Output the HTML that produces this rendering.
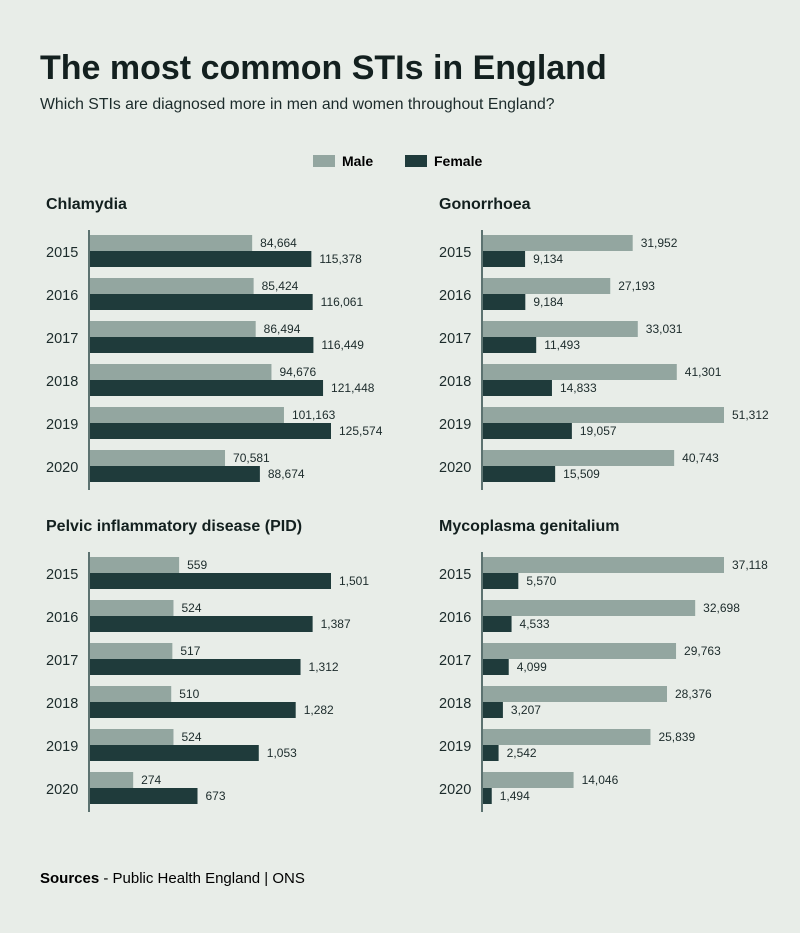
<!DOCTYPE html>
<html><head><meta charset="utf-8"><style>
body{margin:0;background:#e8ede8;width:800px;height:933px;overflow:hidden;font-family:"Liberation Sans",sans-serif;color:#1c2b2b}
svg{position:absolute;left:0;top:0}
</style></head><body>
<svg width="800" height="933">
<text x="40" y="79" font-size="34" font-weight="bold" fill="#13201f">The most common STIs in England</text>
<text x="40" y="109" font-size="15.8" fill="#1c2b2b">Which STIs are diagnosed more in men and women throughout England?</text>
<g>
<rect x="313" y="155" width="22" height="12" fill="#93a6a0"/>
<text x="342" y="166" font-size="14" font-weight="bold">Male</text>
<rect x="405" y="155" width="22" height="12" fill="#1f3b3b"/>
<text x="434" y="166" font-size="14" font-weight="bold">Female</text>
</g>
<g id="panels"></g>
<text x="40" y="883" font-size="15"><tspan font-weight="bold">Sources</tspan> - Public Health England | ONS</text>
</svg>
<script>
const years=["2015","2016","2017","2018","2019","2020"];
const chlamydiaMale=[84664,85424,86494,94676,101163,70581];
const chlamydiaFemale=[115378,116061,116449,121448,125574,88674];
const gonorrhoeaMale=[31952,27193,33031,41301,51312,40743];
const gonorrhoeaFemale=[9134,9184,11493,14833,19057,15509];
const pidMale=[559,524,517,510,524,274];
const pidFemale=[1501,1387,1312,1282,1053,673];
const mycoMale=[37118,32698,29763,28376,25839,14046];
const mycoFemale=[5570,4533,4099,3207,2542,1494];
const panelTitles=["Chlamydia","Gonorrhoea","Pelvic inflammatory disease (PID)","Mycoplasma genitalium"];
const NS="http://www.w3.org/2000/svg";
const root=document.getElementById('panels');
function el(t,a,p){const e=document.createElementNS(NS,t);for(const k in a)e.setAttribute(k,a[k]);(p||root).appendChild(e);return e;}
const panels=[
 {title:panelTitles[0],m:chlamydiaMale,f:chlamydiaFemale,ax:89,top:230},
 {title:panelTitles[1],m:gonorrhoeaMale,f:gonorrhoeaFemale,ax:482,top:230},
 {title:panelTitles[2],m:pidMale,f:pidFemale,ax:89,top:552},
 {title:panelTitles[3],m:mycoMale,f:mycoFemale,ax:482,top:552}];
panels.forEach((p,pi)=>{
 const g=el('g',{});
 
 
 const mx=Math.max(...p.m,...p.f);
 const x=v=>v/mx*242;
 const t=el('text',{x:p.ax-43,y:p.top-21,'font-size':16,'font-weight':'bold',fill:'#13201f'},g);
 t.textContent=p.title;
 
 
 years.forEach((y,i)=>{
  const gy=p.top+5+i*43;
  const yl=el('text',{x:p.ax-43,y:gy+22,'font-size':14.5,fill:'#1c2b2b'},g);
  yl.textContent=y;
  
  
  [[p.m[i],'#93a6a0',0],[p.f[i],'#1f3b3b',16]].forEach(([v,c,o])=>{
   const r=el('rect',{x:p.ax,y:gy+o,width:x(v),height:16,fill:c},g);
   
   
   const l=el('text',{x:p.ax+x(v)+8,y:gy+o+12,'font-size':12,fill:'#1c2b2b'},g);
   l.textContent=v.toLocaleString('en-US');
   
   
  });
 });
 const a=el('line',{x1:p.ax,x2:p.ax,y1:p.top,y2:p.top+260,stroke:'#5c7270','stroke-width':2},g);
 
 
});
</script>
</body></html>
